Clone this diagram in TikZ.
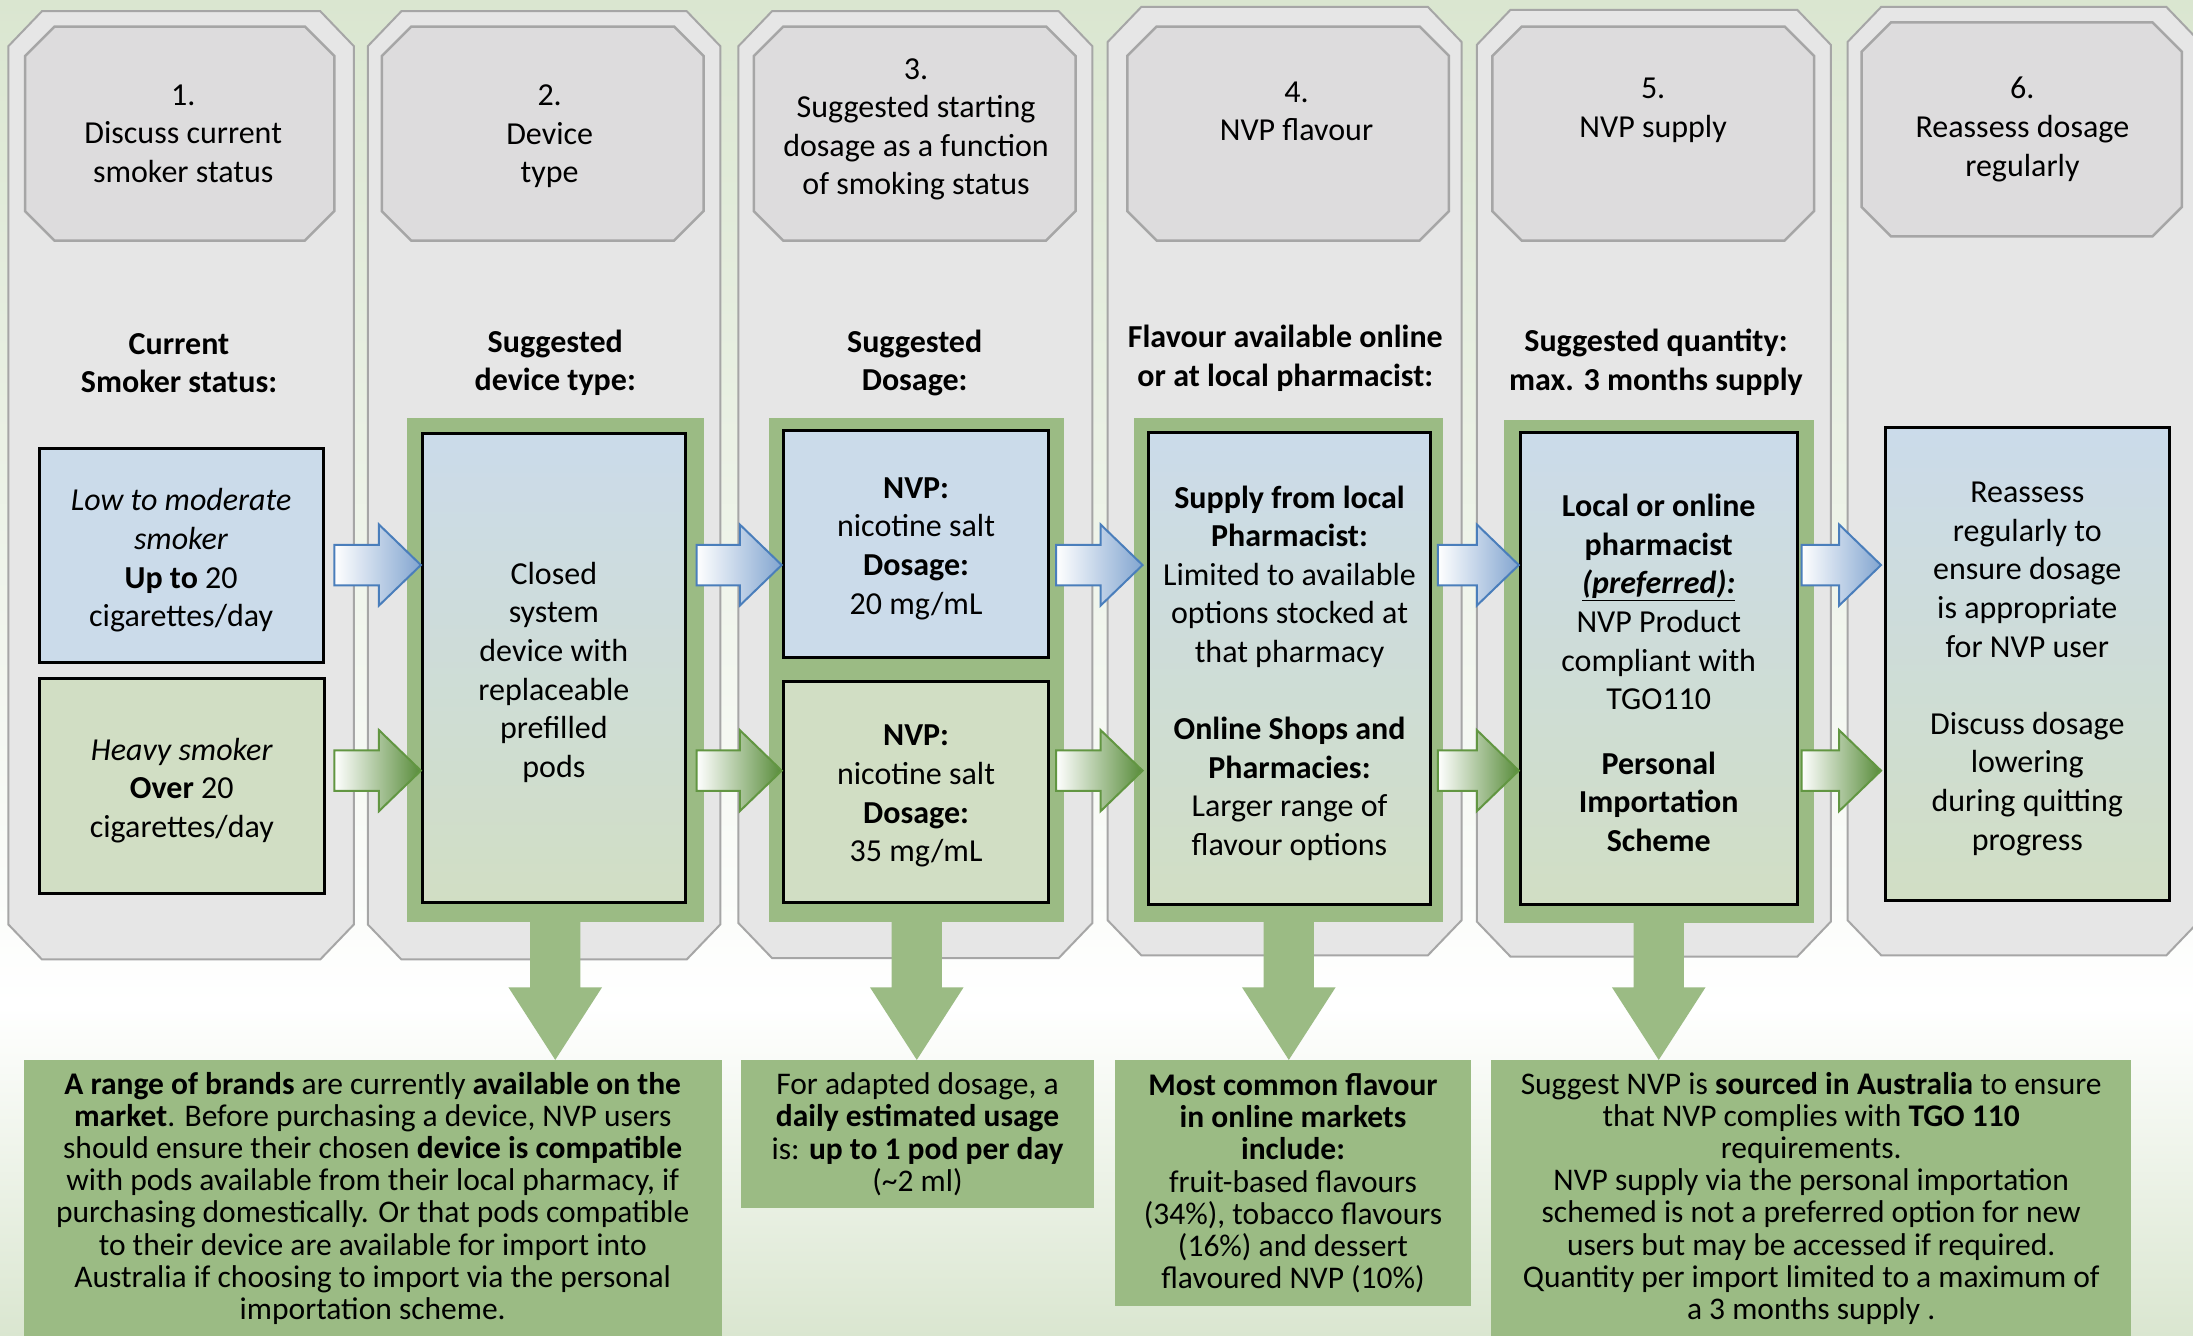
\documentclass[tikz,border=0pt]{standalone}
\usepackage{fontspec}
\setmainfont{Carlito}
\usetikzlibrary{calc}
\definecolor{bggreen}{RGB}{218,230,208}
\definecolor{colfill}{RGB}{230,230,230}
\definecolor{colline}{RGB}{166,166,166}
\definecolor{headfill}{RGB}{221,220,221}
\definecolor{framegreen}{RGB}{155,187,132}
\definecolor{boxblue}{RGB}{203,219,234}
\definecolor{boxgreen}{RGB}{209,222,196}
\definecolor{arrowblue}{RGB}{130,165,208}
\definecolor{arrowblueline}{RGB}{74,126,187}
\definecolor{arrowgreen}{RGB}{88,140,58}
\definecolor{arrowgreenline}{RGB}{98,150,66}
\newcommand\octa[7]{\path[#1] (#2+#6,#3) -- (#4-#6,#3) -- (#4,#3+#7) -- (#4,#5-#7) -- (#4-#6,#5) -- (#2+#6,#5) -- (#2,#5-#7) -- (#2,#3+#7) -- cycle;}
% box node (name, box style, text style, x0, y0, x1, y1, text)
\newcommand\bx[8]{\node[#2, minimum width={(#6-#4)*1.3986pt}, minimum height={(#7-#5)*1.3986pt}] (#1) at ({(#4+#6)/2},{(#5+#7)/2}) {};
  \node[#3] (#1-text) at (#1.center) {#8};}
\newcommand\rarrow[3]{\path[#3] let \p1=(#1), \p2=(#2) in (\x1,\y1+20.28pt) -- (\x2-41.96pt,\y1+20.28pt) -- (\x2-41.96pt,\y1+40.56pt) -- (\x2,\y1) -- (\x2-41.96pt,\y1-40.56pt) -- (\x2-41.96pt,\y1-20.28pt) -- (\x1,\y1-20.28pt) -- cycle;}
\newcommand\darrow[2]{\path[downarrow] let \p1=(#1.south), \p2=(#2.north) in (\x1-25.17pt,\y1) -- (\x1+25.17pt,\y1) -- (\x1+25.17pt,\y2+72.7pt) -- (\x1+46.85pt,\y2+72.7pt) -- (\x1,\y2) -- (\x1-46.85pt,\y2+72.7pt) -- (\x1-25.17pt,\y2+72.7pt) -- cycle;}
\tikzset{
  column/.style={fill=colfill, draw=colline, line width=2pt},
  header/.style={fill=headfill, draw=colline, line width=2.5pt},
  txt/.style={font=\fontsize{32}{38.6}\selectfont, align=center, inner sep=0pt},
  boldtxt/.style={txt, font=\fontsize{32}{38.6}\selectfont\bfseries},
  boxtxt/.style={txt, yshift=-4.5pt},
  btxt/.style={font=\fontsize{31.5}{32.2}\selectfont, align=center, inner sep=0pt},
  frame/.style={fill=framegreen, inner sep=0pt, outer sep=0pt},
  bluebox/.style={fill=boxblue, draw=black, line width=3pt, inner sep=0pt},
  greenbox/.style={fill=boxgreen, draw=black, line width=3pt, inner sep=0pt},
  gradbox/.style={top color=boxblue, bottom color=boxgreen, draw=black, line width=3pt, inner sep=0pt},
  notebox/.style={fill=framegreen, inner sep=0pt},
  bluearrow/.style={draw=arrowblueline, line width=2pt, left color=white, right color=arrowblue},
  greenarrow/.style={draw=arrowgreenline, line width=2pt, left color=white, right color=arrowgreen},
  downarrow/.style={fill=framegreen}
}
\begin{document}
\begin{tikzpicture}[x=1.3986pt,y=-1.3986pt]
\useasboundingbox (0,0) rectangle (1568,955);
% background
\fill[top color=bggreen, bottom color=white] (0,0) rectangle (1568,720);
\fill[top color=white, bottom color=bggreen] (0,720) rectangle (1568,955.5);
% columns
\octa{column}{6}{8}{253}{686}{24}{25}
\octa{column}{263}{8}{515}{686}{24}{25}
\octa{column}{528}{8}{781}{685}{24}{25}
\octa{column}{792}{5}{1045}{683}{24}{25}
\octa{column}{1056}{7}{1309}{684}{24}{25}
\octa{column}{1321}{5}{1573}{683}{24}{25}
% headers
\octa{header}{18}{19}{239}{172}{21}{21}
\octa{header}{273}{19}{503}{172}{21}{21}
\octa{header}{539}{19}{769}{172}{21}{21}
\octa{header}{806}{19}{1036}{172}{21}{21}
\octa{header}{1067}{19}{1297}{172}{21}{21}
\octa{header}{1331}{16}{1560}{169}{21}{21}
\node[txt] (h1) at (131,95.5) {1.\\Discuss current\\smoker status};
\node[txt] (h2) at (393,97.5) {2.\\Device\\type};
\node[txt] (h3) at (655,92.5) {3.\\Suggested starting\\dosage as a function\\of smoking status};
\node[txt] (h4) at (927,79.5) {4.\\NVP flavour};
\node[txt] (h5) at (1182,79) {5.\\NVP supply};
\node[txt] (h6) at (1446,92.5) {6.\\Reassess dosage\\regularly};
% sub headings
\node[boldtxt] (s1) at (128,259.5) {Current\\Smoker status:};
\node[boldtxt] (s2) at (397,259.5) {Suggested\\device type:};
\node[boldtxt] (s3) at (654,259.5) {Suggested\\Dosage:};
\node[boldtxt] (s4) at (919,256) {Flavour available online\\or at local pharmacist:};
\node[boldtxt] (s5) at (1184,259) {Suggested quantity:\\max. 3 months supply};
% green frames
\bx{f2}{frame}{txt}{291}{299}{503}{659}{}
\bx{f3}{frame}{txt}{550}{299}{761}{659}{}
\bx{f4}{frame}{txt}{811}{299}{1032}{659}{}
\bx{f5}{frame}{txt}{1075}{300}{1297}{660}{}
% boxes
\bx{c1b}{bluebox}{boxtxt}{28}{321}{231}{474}{\textit{Low to moderate}\\\textit{smoker}\\\textbf{Up to} 20\\cigarettes/day}
\bx{c1g}{greenbox}{boxtxt}{28}{485}{232}{639}{\textit{Heavy smoker}\\\textbf{Over} 20\\cigarettes/day}
\bx{c2i}{gradbox}{boxtxt}{302}{310}{490}{645}{Closed\\system\\device with\\replaceable\\prefilled\\pods}
\bx{c3b}{bluebox}{boxtxt}{560}{308}{750}{470}{\textbf{NVP:}\\nicotine salt\\\textbf{Dosage:}\\20 mg/mL}
\bx{c3g}{greenbox}{boxtxt}{560}{487}{750}{645}{\textbf{NVP:}\\nicotine salt\\\textbf{Dosage:}\\35 mg/mL}
\bx{c4i}{gradbox}{boxtxt}{821}{309}{1023}{647}{\textbf{Supply from local}\\\textbf{Pharmacist:}\\Limited to available\\options stocked at\\that pharmacy\\[38.5pt]\textbf{Online Shops and}\\\textbf{Pharmacies:}\\Larger range of\\flavour options}
\bx{c5i}{gradbox}{boxtxt}{1087}{309}{1285}{647}{\textbf{Local or online}\\\textbf{pharmacist}\\\underline{\textbf{\textit{(preferred):}}}\\NVP Product\\compliant with\\TGO110\\[26pt]\textbf{Personal}\\\textbf{Importation}\\\textbf{Scheme}}
\bx{c6i}{gradbox}{boxtxt}{1348}{306}{1551}{644}{Reassess\\regularly to\\ensure dosage\\is appropriate\\for NVP user\\[38.5pt]Discuss dosage\\lowering\\during quitting\\progress}
% bottom notes
\bx{b1}{notebox}{btxt}{17}{758}{516}{955.5}{\textbf{A range of brands} are currently \textbf{available on the}\\\textbf{market}. Before purchasing a device, NVP users\\should ensure their chosen \textbf{device is compatible}\\with pods available from their local pharmacy, if\\purchasing domestically. Or that pods compatible\\to their device are available for import into\\Australia if choosing to import via the personal\\importation scheme.}
\bx{b2}{notebox}{btxt}{530}{758}{782}{864}{For adapted dosage, a\\\textbf{daily estimated usage}\\is: \textbf{up to 1 pod per day}\\(\textasciitilde 2 ml)}
\bx{b3}{notebox}{btxt}{797}{758}{1052}{934}{\textbf{Most common flavour}\\\textbf{in online markets}\\\textbf{include:}\\fruit-based flavours\\(34\%), tobacco flavours\\(16\%) and dessert\\flavoured NVP (10\%)}
\bx{b4}{notebox}{btxt}{1066}{758}{1524}{955.5}{Suggest NVP is \textbf{sourced in Australia} to ensure\\that NVP complies with \textbf{TGO 110}\\requirements.\\NVP supply via the personal importation\\schemed is not a preferred option for new\\users but may be accessed if required.\\Quantity per import limited to a maximum of\\a 3 months supply .}
% horizontal arrows
\coordinate (rowb) at (0,404);
\coordinate (rowg) at (0,551);
\rarrow{$(c1b.east |- rowb)+(7,0)$}{c2i.west |- rowb}{bluearrow}
\rarrow{$(c1g.east |- rowg)+(6,0)$}{c2i.west |- rowg}{greenarrow}
\rarrow{$(c2i.east |- rowb)+(7,0)$}{c3b.west |- rowb}{bluearrow}
\rarrow{$(c2i.east |- rowg)+(7,0)$}{c3g.west |- rowg}{greenarrow}
\rarrow{$(c3b.east |- rowb)+(4,0)$}{$(c4i.west |- rowb)+(-3,0)$}{bluearrow}
\rarrow{$(c3g.east |- rowg)+(4,0)$}{$(c4i.west |- rowg)+(-3,0)$}{greenarrow}
\rarrow{$(c4i.east |- rowb)+(4,0)$}{c5i.west |- rowb}{bluearrow}
\rarrow{$(c4i.east |- rowg)+(4,0)$}{c5i.west |- rowg}{greenarrow}
\rarrow{$(c5i.east |- rowb)+(2,0)$}{$(c6i.west |- rowb)+(-2,0)$}{bluearrow}
\rarrow{$(c5i.east |- rowg)+(2,0)$}{$(c6i.west |- rowg)+(-2,0)$}{greenarrow}
% down arrows
\darrow{f2}{b1}
\darrow{f3}{b2}
\darrow{f4}{b3}
\darrow{f5}{b4}
\end{tikzpicture}
\end{document}
